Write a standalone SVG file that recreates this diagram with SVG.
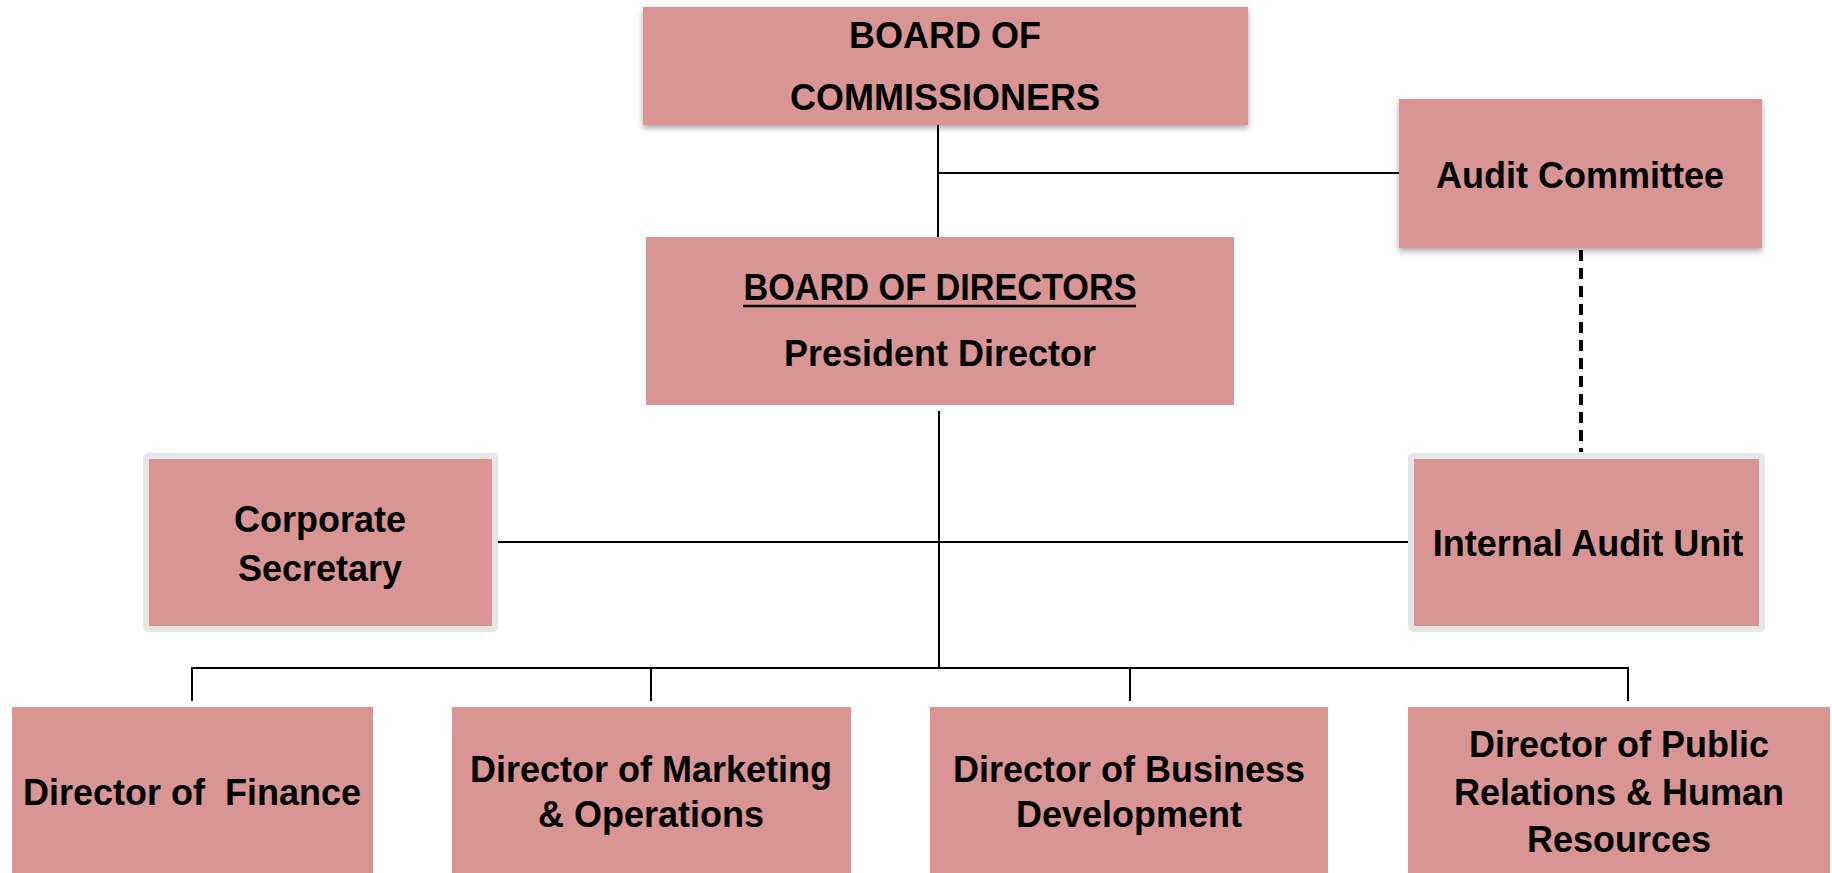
<svg xmlns="http://www.w3.org/2000/svg" width="1832" height="873" viewBox="0 0 1832 873">
<style>
.box{fill:#d99594}
.frame{fill:#d99594;stroke:#e6e6e6;stroke-width:6}
.t{font-family:"Liberation Sans",Arial,sans-serif;font-weight:bold;font-size:36px;fill:#000;text-anchor:middle;white-space:pre}
.ln{stroke:#000;stroke-width:2;fill:none}
.dash{stroke:#000;stroke-width:4;stroke-dasharray:11 7;fill:none}
</style>
<defs>
<filter id="sh" x="-10%" y="-10%" width="120%" height="130%">
<feDropShadow dx="0" dy="3" stdDeviation="3" flood-color="#000" flood-opacity="0.35"/>
</filter>
</defs>
<rect width="1832" height="873" fill="#fff"/>
<g id="connectors">
<line class="ln" x1="938" y1="125" x2="938" y2="239"/>
<line class="ln" x1="938" y1="173" x2="1399" y2="173"/>
<line class="dash" x1="1581" y1="250" x2="1581" y2="452"/>
<line class="ln" x1="939" y1="411" x2="939" y2="668"/>
<line class="ln" x1="498" y1="542" x2="1408" y2="542"/>
<line class="ln" x1="192" y1="668" x2="1628" y2="668"/>
<line class="ln" x1="192" y1="667" x2="192" y2="701"/>
<line class="ln" x1="651" y1="667" x2="651" y2="701"/>
<line class="ln" x1="1130" y1="667" x2="1130" y2="701"/>
<line class="ln" x1="1628" y1="667" x2="1628" y2="701"/>
</g>
<g id="board-of-commissioners">
<rect class="box" x="643" y="7" width="605" height="118" filter="url(#sh)"/>
<text class="t" x="945" y="48">BOARD OF</text>
<text class="t" x="945" y="110">COMMISSIONERS</text>
</g>
<g id="audit-committee">
<rect class="box" x="1399" y="99" width="363" height="149" filter="url(#sh)"/>
<text class="t" x="1580" y="188">Audit Committee</text>
</g>
<g id="board-of-directors">
<rect class="box" x="646" y="237" width="588" height="168"/>
<text class="t" x="940" y="300" textLength="393" lengthAdjust="spacingAndGlyphs">BOARD OF DIRECTORS</text>
<line x1="743" y1="306" x2="1136" y2="306" stroke="#000" stroke-width="2.5"/>
<text class="t" x="940" y="366">President Director</text>
</g>
<g id="corporate-secretary">
<rect class="frame" x="146" y="456" width="349" height="173" rx="2"/>
<text class="t" x="320" y="532">Corporate</text>
<text class="t" x="320" y="581">Secretary</text>
</g>
<g id="internal-audit-unit">
<rect class="frame" x="1411" y="456" width="351" height="173" rx="2"/>
<text class="t" x="1588" y="556">Internal Audit Unit</text>
</g>
<g id="director-finance">
<rect class="box" x="12" y="707" width="361" height="170"/>
<text class="t" x="192" y="805">Director of  Finance</text>
</g>
<g id="director-marketing">
<rect class="box" x="452" y="707" width="399" height="170"/>
<text class="t" x="651" y="782">Director of Marketing</text>
<text class="t" x="651" y="827">&amp; Operations</text>
</g>
<g id="director-business">
<rect class="box" x="930" y="707" width="398" height="170"/>
<text class="t" x="1129" y="782">Director of Business</text>
<text class="t" x="1129" y="827">Development</text>
</g>
<g id="director-pr-hr">
<rect class="box" x="1408" y="707" width="422" height="170"/>
<text class="t" x="1619" y="757">Director of Public</text>
<text class="t" x="1619" y="805">Relations &amp; Human</text>
<text class="t" x="1619" y="852">Resources</text>
</g>
</svg>
